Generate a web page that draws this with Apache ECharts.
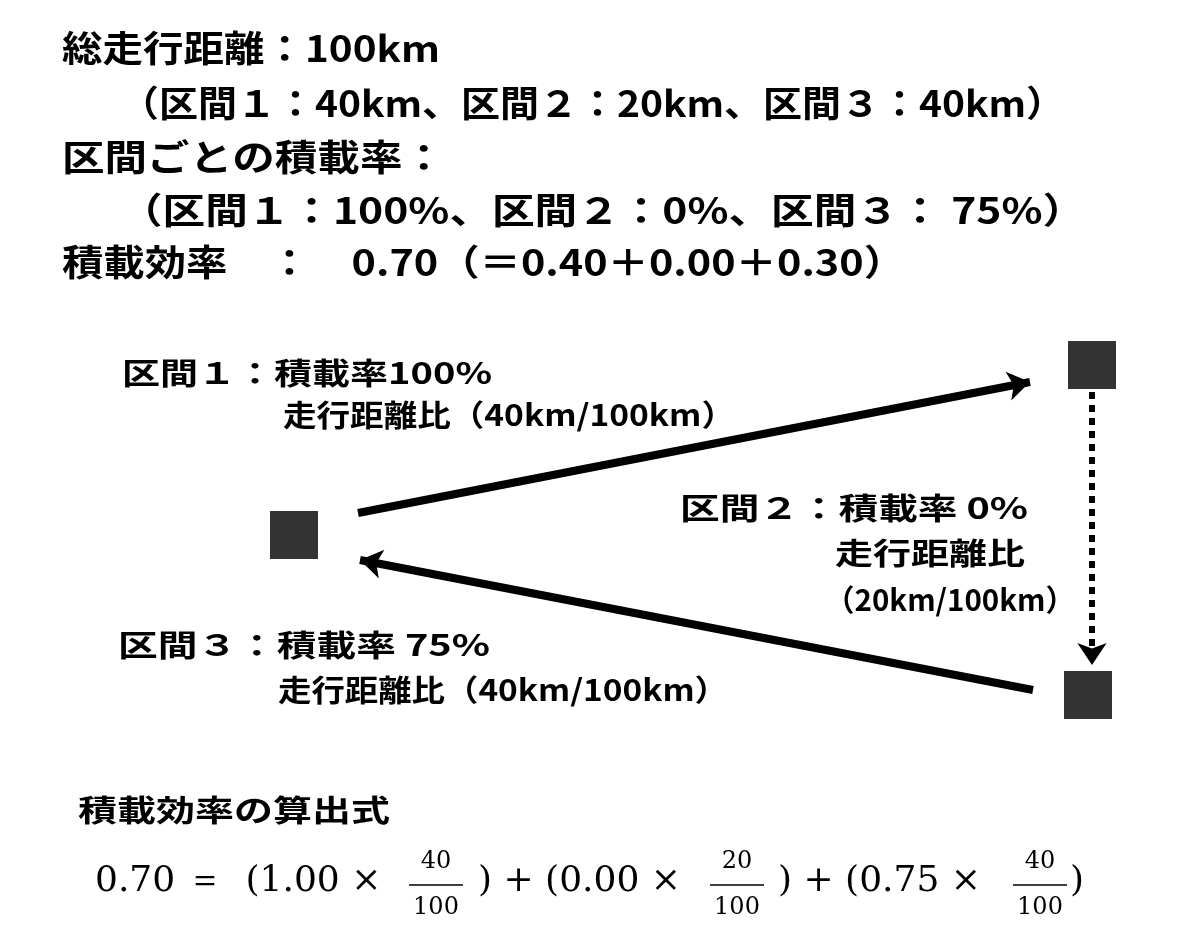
<!DOCTYPE html>
<html><head><meta charset="utf-8">
<script src="https://cdn.jsdelivr.net/npm/echarts@6/dist/echarts.min.js"></script>
<style>html,body{margin:0;background:#fff}#c{width:1200px;height:936px}</style>
</head><body><div id="c"></div>
<script>
// nodes of the route (depot, turn point, return point)
let nodes = [[294, 535], [1092, 365], [1088, 695]];
// segments: [from, to, dashed]
let segments = [
    [[358, 513], [1030, 382], false],
    [[1092, 392], [1092, 665], true],
    [[1033, 690], [360, 560], false]
];
// header lines: [text, x, y, width]
let header_lines = [
    ["総走行距離：100km", 62, 48, 378],
    ["（区間１：40km、区間２：20km、区間３：40km）", 120, 103, 945],
    ["区間ごとの積載率：", 62, 157, 383],
    ["（区間１：100%、区間２：0%、区間３： 75%）", 120, 210, 965],
    ["積載効率　：　0.70（＝0.40＋0.00＋0.30）", 62, 262, 843]
];
let segment_labels = [
    ["区間１：積載率100%", 122, 373, 370],
    ["走行距離比（40km/100km）", 283, 415, 452],
    ["区間２：積載率 0%", 680, 508, 348],
    ["走行距離比", 835, 553, 190],
    ["（20km/100km）", 825, 600, 250],
    ["区間３：積載率 75%", 118, 645, 372],
    ["走行距離比（40km/100km）", 278, 690, 450],
    ["積載効率の算出式", 78, 810, 312]
];
let formula_parts = [
    ["0.70 ＝  (1.00 ×", 95], [") + (0.00 ×", 478], [") + (0.75 ×", 778], [")", 1070]
];
// fractions: [numerator, denominator, centre x]
let fractions = [["40", "100", 436], ["20", "100", 737], ["40", "100", 1040]];

const cjk = '"Noto Sans CJK JP", sans-serif';
let ctx = document.createElement('canvas').getContext('2d');

function fitted_text(t, x, y, w, size) {
    ctx.font = 'bold ' + size + 'px ' + cjk;
    let sx = w / ctx.measureText(t).width;
    return {type: 'text', x: x, y: y, scaleX: sx,
        style: {text: t, font: 'bold ' + size + 'px ' + cjk, fill: '#000', textVerticalAlign: 'middle'}};
}

let graphics = [];
header_lines.forEach(h => graphics.push(fitted_text(h[0], h[1], h[2], h[3], 36)));
segment_labels.forEach(h => graphics.push(fitted_text(h[0], h[1], h[2], h[3], 30)));
const serif = '"DejaVu Serif", serif';
formula_parts.forEach(p => graphics.push({type: 'text', x: p[1], y: 882,
    style: {text: p[0], font: '36px ' + serif, fill: '#000', textVerticalAlign: 'middle'}}));
fractions.forEach(f => {
    graphics.push({type: 'text', x: f[2], y: 862, style: {text: f[0], font: '24px ' + serif, fill: '#000', textAlign: 'center', textVerticalAlign: 'middle'}});
    graphics.push({type: 'text', x: f[2], y: 908, style: {text: f[1], font: '24px ' + serif, fill: '#000', textAlign: 'center', textVerticalAlign: 'middle'}});
    graphics.push({type: 'line', shape: {x1: f[2] - 27, y1: 885, x2: f[2] + 27, y2: 885}, style: {stroke: '#000', lineWidth: 1.5}});
});

let chart = echarts.init(document.getElementById('c'));
chart.setOption({
    animation: false,
    grid: {left: 0, right: 0, top: 0, bottom: 0},
    xAxis: {type: 'value', min: 0, max: 1200, show: false},
    yAxis: {type: 'value', min: 0, max: 936, inverse: true, show: false},
    series: [
        {type: 'scatter', data: nodes, symbol: 'rect', symbolSize: 48, itemStyle: {color: '#000'}},
        {type: 'lines', coordinateSystem: 'cartesian2d', symbol: ['none', 'arrow'], symbolSize: 22,
            data: segments.map(s => ({coords: [s[0], s[1]],
                lineStyle: {type: s[2] ? [7, 6] : 'solid', width: s[2] ? 6 : 8, color: '#000', opacity: 1}}))}
    ],
    graphic: graphics
});
</script></body></html>
